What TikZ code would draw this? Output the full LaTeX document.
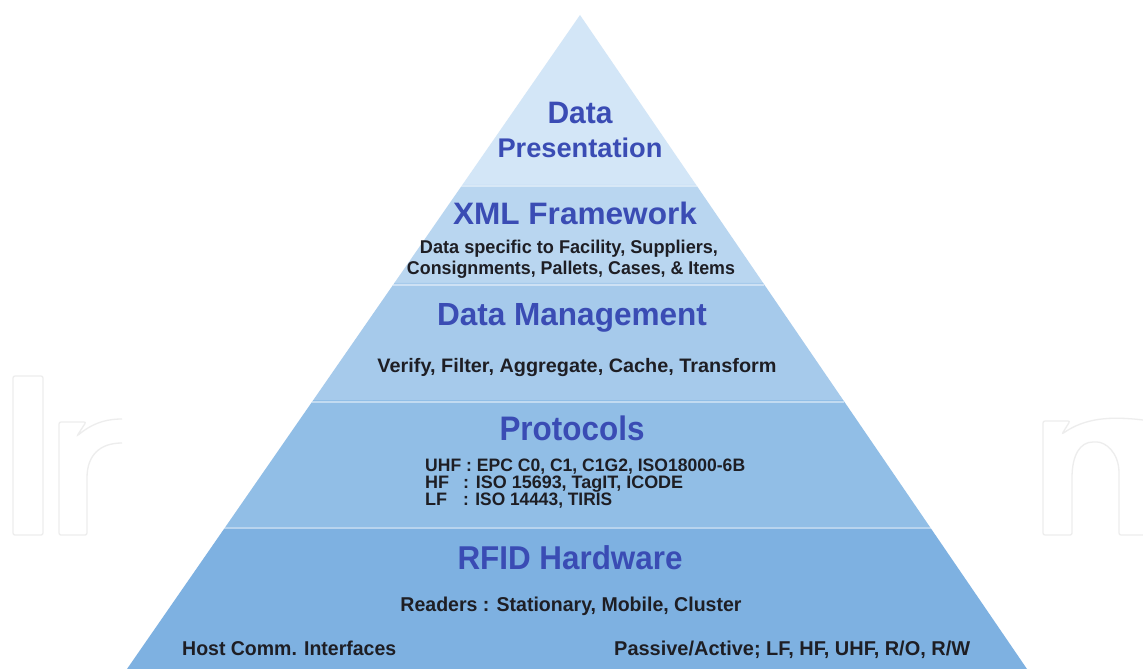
\documentclass[tikz,border=0pt]{standalone}
\usepackage{fontspec}
\usepackage{graphicx}
\setmainfont{Liberation Sans}
\usetikzlibrary{calc}
\definecolor{ttl}{HTML}{3A4CB4}
\definecolor{txt}{HTML}{1E1E24}
\definecolor{layA}{HTML}{D3E6F7}
\definecolor{layB}{HTML}{B9D6F0}
\definecolor{layC}{HTML}{A6CAEB}
\definecolor{layD}{HTML}{91BEE6}
\definecolor{layE}{HTML}{7EB1E1}
\definecolor{wmark}{HTML}{EDEDED}
\newcommand\wfit[2]{\resizebox{#1pt}{\height}{#2}}
\newcommand\layer[3]{%
  \fill[#3] ($(A)!{(#1-15)/654}!(BL)$) -- ($(A)!{(#2-15)/654}!(BL)$)
    -- ($(A)!{(#2-15)/654}!(BR)$) -- ($(A)!{(#1-15)/654}!(BR)$) -- cycle;}
\newcommand\hilite[1]{%
  \draw[white, opacity=.45, line width=2pt]
    ($(A)!{(#1-15+1.5)/654}!(BL)$) -- ($(A)!{(#1-15+1.5)/654}!(BR)$);}
\begin{document}
\begin{tikzpicture}[x=1pt,y=-1pt,
  ttlbox/.style={font=\bfseries, text=ttl, inner sep=0pt, anchor=base},
  txtbox/.style={font=\bfseries, text=txt, inner sep=0pt, anchor=base},
  wm/.style={draw=wmark, line width=1.3pt, rounded corners=2pt}]
\useasboundingbox (0,0) rectangle (1143,669);
\fill[white] (0,0) rectangle (1143,669);
% watermark
\draw[wm] (13,376) rectangle (43,535);
\draw[wm] (122,443) .. controls (100,443) and (87,455) .. (87,480) -- (87,535) -- (59,535) -- (59,422) -- (86,422) -- (77,436) .. controls (95,421) and (110,419) .. (122,419);
\draw[wm] (1143,420) .. controls (1110,416) and (1085,418) .. (1062,434) -- (1070,421) -- (1043,421) -- (1043,535) -- (1072,535) -- (1072,480) .. controls (1072,455) and (1080,442) .. (1095,442) .. controls (1105,442) and (1119,452) .. (1119,475) -- (1119,535) -- (1143,535);
% pyramid
\coordinate (A) at (580,15);
\coordinate (BL) at (127,669);
\coordinate (BR) at (1027,669);
\layer{15}{185}{layA}
\layer{185}{283}{layB}
\layer{283}{400}{layC}
\layer{400}{527}{layD}
\layer{527}{669}{layE}
\hilite{185}\hilite{283}\hilite{400}\hilite{527}
% texts
\node[ttlbox, font=\bfseries\fontsize{31}{31}\selectfont] (dp1) at (580,124) {\wfit{65}{Data}};
\node[ttlbox, font=\bfseries\fontsize{27}{27}\selectfont] (dp2) at (580,157) {\wfit{165}{Presentation}};
\node[ttlbox, font=\bfseries\fontsize{31}{31}\selectfont] (xml) at (575,224) {\wfit{244}{XML Framework}};
\node[txtbox, font=\bfseries\fontsize{18.5}{18.5}\selectfont] (xml1) at (569,253) {\wfit{298}{Data specific to Facility, Suppliers,}};
\node[txtbox, font=\bfseries\fontsize{18.5}{18.5}\selectfont] (xml2) at (571,274) {\wfit{328}{Consignments, Pallets, Cases, \& Items}};
\node[ttlbox, font=\bfseries\fontsize{32}{32}\selectfont] (dm) at (572,325) {\wfit{270}{Data Management}};
\node[txtbox, font=\bfseries\fontsize{19.5}{19.5}\selectfont] (dm1) at (577,372) {\wfit{399}{Verify, Filter, Aggregate, Cache, Transform}};
\node[ttlbox, font=\bfseries\fontsize{34}{34}\selectfont] (pr) at (572,440) {\wfit{145}{Protocols}};
\node[txtbox, anchor=base west, font=\bfseries\fontsize{18}{18}\selectfont] (uhf) at (425,471) {\wfit{320}{UHF : EPC C0, C1, C1G2, ISO18000-6B}};
\node[txtbox, anchor=base west, font=\bfseries\fontsize{18}{18}\selectfont] (hf) at (425,488) {HF};
\node[txtbox, anchor=base west, font=\bfseries\fontsize{18}{18}\selectfont] (hfv) at (463,488) {\wfit{220}{: ISO 15693, TagIT, ICODE}};
\node[txtbox, anchor=base west, font=\bfseries\fontsize{18}{18}\selectfont] (lf) at (425,505) {LF};
\node[txtbox, anchor=base west, font=\bfseries\fontsize{18}{18}\selectfont] (lfv) at (463,505) {\wfit{149}{: ISO 14443, TIRIS}};
\node[ttlbox, font=\bfseries\fontsize{33}{33}\selectfont] (rf) at (570,569) {\wfit{225}{RFID Hardware}};
\node[txtbox, font=\bfseries\fontsize{20}{20}\selectfont] (rf1) at (571,611) {\wfit{341}{Readers : Stationary, Mobile, Cluster}};
\node[txtbox, anchor=base west, font=\bfseries\fontsize{20}{20}\selectfont] (rf2) at (182,655) {\wfit{214}{Host Comm. Interfaces}};
\node[txtbox, anchor=base west, font=\bfseries\fontsize{20}{20}\selectfont] (rf3) at (614,655) {\wfit{356}{Passive/Active; LF, HF, UHF, R/O, R/W}};
\end{tikzpicture}
\end{document}
